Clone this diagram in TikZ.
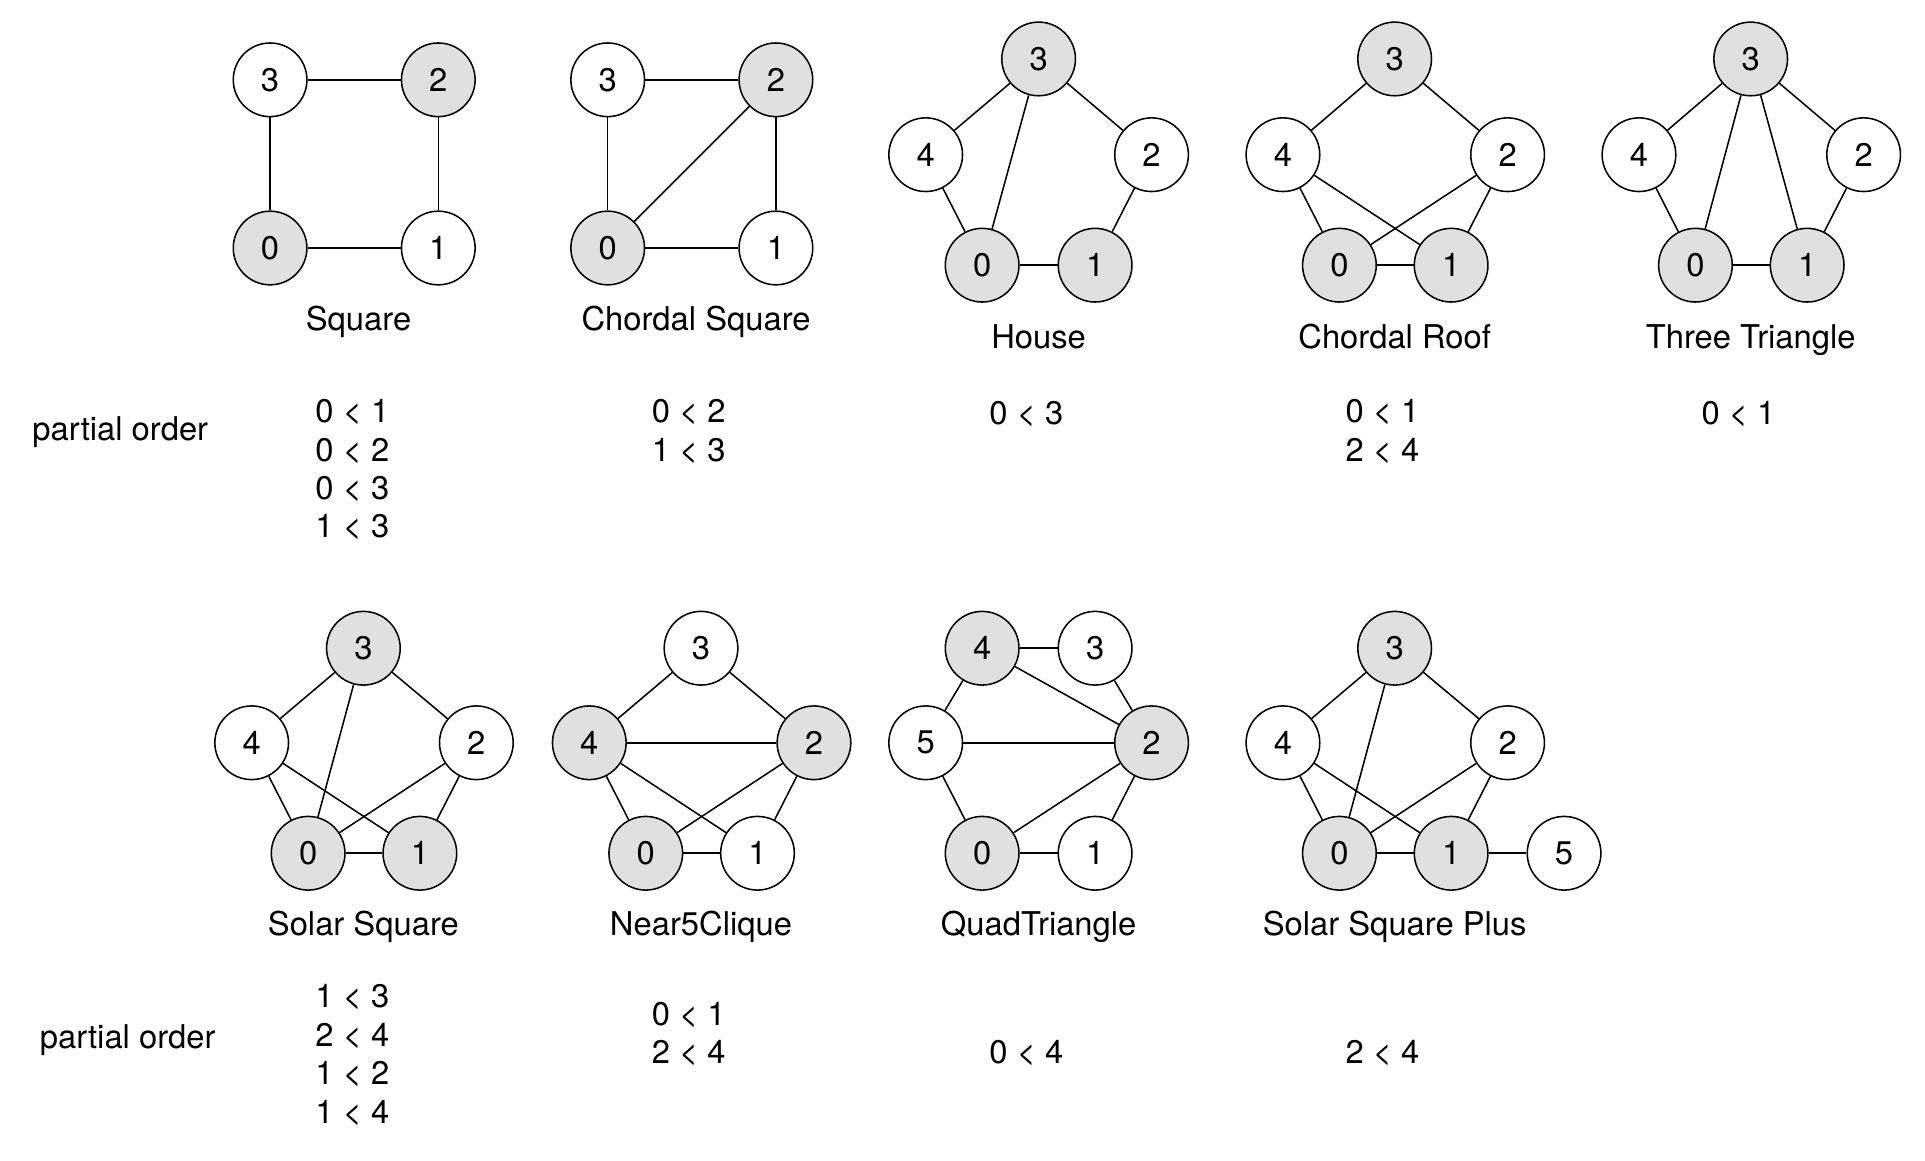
\documentclass[tikz,border=0pt]{standalone}
\usepackage{fontspec}
\setmainfont{TeX Gyre Heros}
\usetikzlibrary{positioning}
\definecolor{relleno}{HTML}{E0E0E0}

\begin{document}
\begin{tikzpicture}[x=0.6pt, y=-0.6pt, font=\fontsize{16}{18.6}\selectfont,
      nd/.style={draw, circle, minimum size=36pt, inner sep=0pt, line width=0.75pt, fill=white},
      ndg/.style={nd, fill=relleno},
      ed/.style={line width=0.75pt},
      tit/.style={anchor=base},
      po/.style={inner sep=0pt}]

    \useasboundingbox (0,0) rectangle (1568,945);

    % Square
    \node[nd]  (sq3) at (220,65)  {3};
    \node[ndg] (sq2) at (357,65)  {2};
    \node[ndg] (sq0) at (220,202) {0};
    \node[nd]  (sq1) at (357,202) {1};
    \foreach \a/\b in {3/2,3/0,2/1,0/1} \draw[ed] (sq\a) -- (sq\b);
    \node[tit] (tsq) at (292,269) {Square};

    % Chordal Square
    \node[nd]  (cs3) at (495,65)  {3};
    \node[ndg] (cs2) at (632,65)  {2};
    \node[ndg] (cs0) at (495,202) {0};
    \node[nd]  (cs1) at (632,202) {1};
    \foreach \a/\b in {3/2,3/0,2/1,0/1,0/2} \draw[ed] (cs\a) -- (cs\b);
    \node[tit] (tcs) at (567,269) {Chordal Square};

    % House
    \node[ndg] (ho3) at (846,48)  {3};
    \node[nd]  (ho4) at (754,126) {4};
    \node[nd]  (ho2) at (938,126) {2};
    \node[ndg] (ho0) at (800,216) {0};
    \node[ndg] (ho1) at (892,216) {1};
    \foreach \a/\b in {3/4,3/2,3/0,4/0,2/1,0/1} \draw[ed] (ho\a) -- (ho\b);
    \node[tit] (tho) at (846,284) {House};

    % Chordal Roof
    \node[ndg] (cr3) at (1136,48)  {3};
    \node[nd]  (cr4) at (1045,126) {4};
    \node[nd]  (cr2) at (1228,126) {2};
    \node[ndg] (cr0) at (1091,216) {0};
    \node[ndg] (cr1) at (1182,216) {1};
    \foreach \a/\b in {3/4,3/2,4/0,4/1,2/0,2/1,0/1} \draw[ed] (cr\a) -- (cr\b);
    \node[tit] (tcr) at (1136,284) {Chordal Roof};

    % Three Triangle
    \node[ndg] (tt3) at (1426,48)  {3};
    \node[nd]  (tt4) at (1335,126) {4};
    \node[nd]  (tt2) at (1518,126) {2};
    \node[ndg] (tt0) at (1381,216) {0};
    \node[ndg] (tt1) at (1472,216) {1};
    \foreach \a/\b in {3/4,3/2,3/0,3/1,4/0,2/1,0/1} \draw[ed] (tt\a) -- (tt\b);
    \node[tit] (ttt) at (1426,284) {Three Triangle};

    % Solar Square
    \node[ndg] (ss3) at (296,528) {3};
    \node[nd]  (ss4) at (205,605) {4};
    \node[nd]  (ss2) at (388,605) {2};
    \node[ndg] (ss0) at (251,695) {0};
    \node[ndg] (ss1) at (342,695) {1};
    \foreach \a/\b in {3/4,3/2,3/0,4/0,4/1,2/0,2/1,0/1} \draw[ed] (ss\a) -- (ss\b);
    \node[tit] (tss) at (296,762) {Solar Square};

    % Near5Clique
    \node[nd]  (nc3) at (571,528) {3};
    \node[ndg] (nc4) at (480,605) {4};
    \node[ndg] (nc2) at (663,605) {2};
    \node[ndg] (nc0) at (526,695) {0};
    \node[nd]  (nc1) at (617,695) {1};
    \foreach \a/\b in {3/4,3/2,4/2,4/0,4/1,2/0,2/1,0/1} \draw[ed] (nc\a) -- (nc\b);
    \node[tit] (tnc) at (571,762) {Near5Clique};

    % QuadTriangle
    \node[ndg] (qt4) at (800,528) {4};
    \node[nd]  (qt3) at (892,528) {3};
    \node[nd]  (qt5) at (754,605) {5};
    \node[ndg] (qt2) at (938,605) {2};
    \node[ndg] (qt0) at (800,695) {0};
    \node[nd]  (qt1) at (892,695) {1};
    \foreach \a/\b in {4/3,4/5,4/2,3/2,5/2,5/0,2/0,2/1,0/1} \draw[ed] (qt\a) -- (qt\b);
    \node[tit] (tqt) at (846,762) {QuadTriangle};

    % Solar Square Plus
    \node[ndg] (sp3) at (1136,528) {3};
    \node[nd]  (sp4) at (1045,605) {4};
    \node[nd]  (sp2) at (1228,605) {2};
    \node[ndg] (sp0) at (1091,695) {0};
    \node[ndg] (sp1) at (1182,695) {1};
    \node[nd]  (sp5) at (1274,695) {5};
    \foreach \a/\b in {3/4,3/2,3/0,4/0,4/1,2/0,2/1,0/1,1/5} \draw[ed] (sp\a) -- (sp\b);
    \node[tit] (tsp) at (1136,762) {Solar Square Plus};

    % orden parcial, fila de arriba
    \node (po1) at (98,352) {partial order};
    \foreach \t [count=\i] in {0 < 1, 0 < 2, 0 < 3, 1 < 3}
      \node[po] (posq\i) at (287,305+31*\i) {\t};
    \foreach \t [count=\i] in {0 < 2, 1 < 3}
      \node[po] (pocs\i) at (561,305+31*\i) {\t};
    \node[po] (poho) at (836,337) {0 < 3};
    \foreach \t [count=\i] in {0 < 1, 2 < 4}
      \node[po] (pocr\i) at (1126,305+31*\i) {\t};
    \node[po] (pott) at (1416,337) {0 < 1};

    % orden parcial, fila de abajo
    \node (po2) at (104,847) {partial order};
    \foreach \t [count=\i] in {1 < 3, 2 < 4, 1 < 2, 1 < 4}
      \node[po] (poss\i) at (287,781+31.3*\i) {\t};
    \foreach \t [count=\i] in {0 < 1, 2 < 4}
      \node[po] (ponc\i) at (561,796+31*\i) {\t};
    \node[po] (poqt) at (836,858) {0 < 4};
    \node[po] (posp) at (1126,858) {2 < 4};
  \end{tikzpicture}
\end{document}
